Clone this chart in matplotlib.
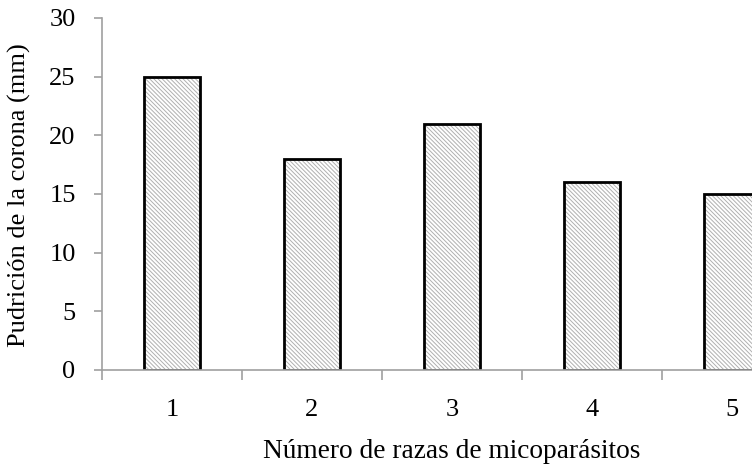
import matplotlib.pyplot as plt
import numpy as np

plt.rcParams['font.family'] = ['Liberation Serif', 'DejaVu Serif']
plt.rcParams['hatch.linewidth'] = 0.7

categorias = ['1', '2', '3', '4', '5']
pudricion = [25, 18, 21, 16, 15]

fig = plt.figure(figsize=(7.52, 4.7), dpi=100)
ax = fig.add_axes([0.1356, 0.2128, 0.8644, 0.749])

x = np.arange(1, len(categorias) + 1)
# hatch takes the edge colour, so draw the grey hatch and black outline separately
ax.bar(x, pudricion, width=0.4, color='white', edgecolor='#b0b0b0',
       linewidth=0, hatch='\\\\\\\\\\\\\\\\')
ax.bar(x, pudricion, width=0.4, fill=False, edgecolor='black', linewidth=2)

ax.set_yticks(range(0, 31, 5))

# ticks at category boundaries, labels at centers
ax.set_xticks(np.arange(0.5, 5.6, 1.0))
ax.set_xticklabels([])
ax.set_xticks(x, minor=True)
ax.set_xticklabels(categorias, minor=True)
ax.set_xlim(0.5, 0.5 + 650 / 140)
ax.set_ylim(0, 30)
ax.tick_params(axis='x', which='major', direction='out', length=7, color='#a0a0a0', width=1.2)
ax.tick_params(axis='x', which='minor', length=0, pad=21, labelsize=19)
ax.tick_params(axis='y', direction='out', length=6, color='#a0a0a0', width=1.2, pad=13, labelsize=19)

for s in ['top', 'right']:
    ax.spines[s].set_visible(False)
for s in ['left', 'bottom']:
    ax.spines[s].set_color('#a0a0a0')
    ax.spines[s].set_linewidth(1.2)

fig.text(19 / 752, 1 - 195 / 470, 'Pudrición de la corona (mm)', fontsize=19,
         rotation=90, ha='center', va='center')
fig.text(452 / 752, 1 - 451 / 470, 'Número de razas de micoparásitos',
         fontsize=19.7, ha='center', va='center')

fig.savefig('out.png', dpi=100)
